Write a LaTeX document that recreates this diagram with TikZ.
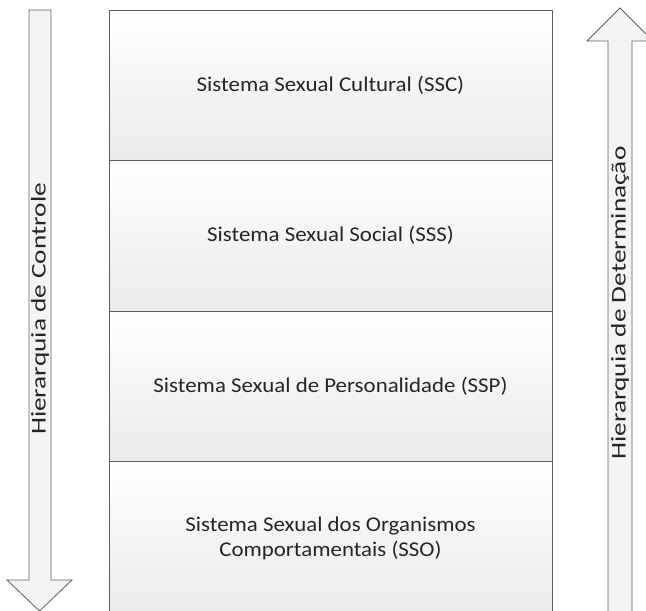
\documentclass[tikz,border=0pt]{standalone}
\usepackage{fontspec}
\setmainfont{Carlito}
\newfontfamily\layerfont[FakeStretch=1.09]{Carlito}
\newfontfamily\hierfont[FakeStretch=1.3]{Carlito}
\begin{document}
\begin{tikzpicture}[x=1pt,y=-1pt]
      \definecolor{edgegray}{HTML}{5F5F5F}
      \definecolor{textgray}{HTML}{262626}
      \tikzstyle{layer} = [draw=edgegray, thick, rectangle, top color=white, bottom color=gray!16,
        minimum width=443pt, align=center, text=textgray, font=\layerfont\fontsize{21}{25}\selectfont]
      \tikzstyle{bigarrow} = [draw=edgegray, thick, fill=gray!9]
      \tikzstyle{hlabel} = [rotate=90, text=textgray, font=\hierfont\fontsize{21}{25}\selectfont]

      \clip (0,0) rectangle (646,611);
      \useasboundingbox (0,0) rectangle (646,611);

        \foreach \name/\y/\h/\txt in {ssc/85/150/{Sistema Sexual Cultural (SSC)},
                                       sss/235.5/151/{Sistema Sexual Social (SSS)},
                                       ssp/386/150/{Sistema Sexual de Personalidade (SSP)},
                                       sso/538/154/{Sistema Sexual dos Organismos\\Comportamentais (SSO)}}{
          \node[layer, minimum height=\h pt](\name) at (330.5,\y) {\txt};
      }

      % control arrow, pointing down
      \draw[bigarrow] (29,10) -- (51,10) -- (51,580) -- (72,580) -- (39.5,611)
        -- (7,580) -- (29,580) -- cycle;
      % determination arrow, pointing up
      \draw[bigarrow] (620,8) -- (653,41) -- (632,41) -- (632,620) -- (608,620)
        -- (608,41) -- (587,41) -- cycle;

      \node[hlabel](control) at (40,309) {Hierarquia de Controle};
      \node[hlabel](determination) at (620,303) {Hierarquia de Determinação};
    \end{tikzpicture}
\end{document}
